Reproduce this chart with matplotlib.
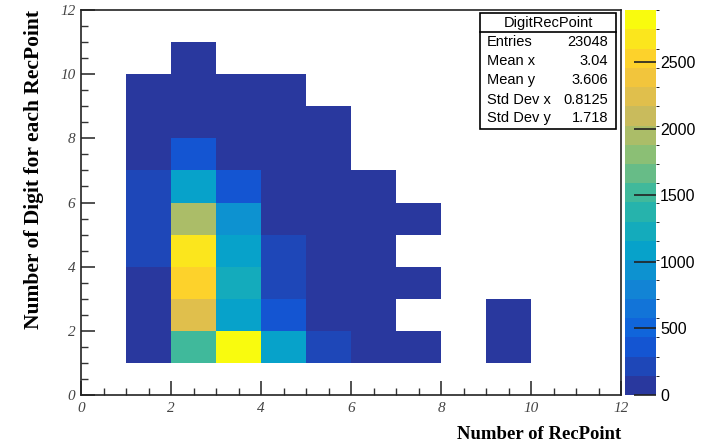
import numpy as np
import matplotlib
matplotlib.use("Agg")
import matplotlib.pyplot as plt
from matplotlib.colors import LinearSegmentedColormap, BoundaryNorm, ListedColormap

# bin contents of DigitRecPoint, 1x1 bins on [0,12]x[0,12]
# each entry: (x bin low edge, y bin low edge, content)
ix = [1, 1, 1, 1, 1, 1, 1, 1, 1,
      2, 2, 2, 2, 2, 2, 2, 2, 2, 2,
      3, 3, 3, 3, 3, 3, 3, 3, 3,
      4, 4, 4, 4, 4, 4, 4, 4, 4,
      5, 5, 5, 5, 5, 5, 5, 5,
      6, 6, 6, 6, 6, 6,
      7, 7, 7,
      9, 9]
iy = [1, 2, 3, 4, 5, 6, 7, 8, 9,
      1, 2, 3, 4, 5, 6, 7, 8, 9, 10,
      1, 2, 3, 4, 5, 6, 7, 8, 9,
      1, 2, 3, 4, 5, 6, 7, 8, 9,
      1, 2, 3, 4, 5, 6, 7, 8,
      1, 2, 3, 4, 5, 6,
      1, 3, 5,
      1, 2]
content = [8, 6, 5, 260, 260, 260, 3, 2, 1,
           1450, 2200, 2540, 2660, 2020, 1060, 400, 3, 2, 1,
           2890, 1040, 1300, 1130, 880, 380, 5, 3, 2,
           1050, 380, 260, 260, 6, 4, 3, 2, 1,
           260, 9, 6, 5, 4, 3, 2, 1,
           8, 6, 5, 4, 3, 2,
           3, 2, 1,
           2, 1]

stats_names = ["Entries", "Mean x", "Mean y", "Std Dev x", "Std Dev y"]
stats_values = ["23048", "3.04", "3.606", "0.8125", "1.718"]

# ROOT kBird palette
stops = [0.0, 0.125, 0.25, 0.375, 0.5, 0.625, 0.75, 0.875, 1.0]
red = [0.16, 0.0592, 0.0780, 0.0232, 0.1802, 0.5301, 0.8186, 0.9956, 0.9764]
green = [0.22, 0.3599, 0.5041, 0.6419, 0.7178, 0.7492, 0.7328, 0.7862, 0.9832]
blue = [0.62, 0.8684, 0.8385, 0.7914, 0.6425, 0.4662, 0.3499, 0.1968, 0.0539]
bird = LinearSegmentedColormap.from_list(
    "bird", list(zip(stops, zip(red, green, blue))))

ncont = 20
zmax = max(content)
levels = np.linspace(0, zmax, ncont + 1)
cmap = ListedColormap(bird(np.linspace(0, 1, ncont)))
norm = BoundaryNorm(levels, ncont)

H = np.zeros((12, 12))
for x, y, c in zip(ix, iy, content):
    H[y, x] = c
H = np.ma.masked_equal(H, 0)
edges = np.arange(13)

fig = plt.figure(figsize=(7.11, 4.45), dpi=100)
ax = fig.add_axes([81 / 711, 1 - 395 / 445, 540 / 711, 385 / 445])
cax = fig.add_axes([625 / 711, 1 - 395 / 445, 31 / 711, 385 / 445])

mesh = ax.pcolormesh(edges, edges, H, cmap=cmap, norm=norm)
ax.set_xlim(0, 12)
ax.set_ylim(0, 12)

for sp in ax.spines.values():
    sp.set_linewidth(1.2)
    sp.set_color("#222222")

ax.set_xticks(np.arange(0, 13, 2))
ax.set_yticks(np.arange(0, 13, 2))
ax.set_xticks(np.arange(0, 12.01, 0.5), minor=True)
ax.set_yticks(np.arange(0, 12.01, 0.5), minor=True)
ax.tick_params(which="major", direction="in", length=10, width=1.2, color="#333333",
               top=False, right=False)
ax.tick_params(which="minor", direction="in", length=5, width=1, color="#333333",
               top=False, right=False)
tick_font = dict(family="Liberation Serif", style="italic", size=11)
ax.set_xticklabels([str(v) for v in range(0, 13, 2)], fontdict=tick_font, color="#444444")
ax.set_yticklabels([str(v) for v in range(0, 13, 2)], fontdict=tick_font, color="#444444")
ax.tick_params(axis="x", pad=5)
ax.tick_params(axis="y", pad=4)

ax.set_xlabel("Number of RecPoint", family="Liberation Serif", weight="bold", size=13.5,
              loc="right", labelpad=8)
ax.set_ylabel("Number of Digit for each RecPoint", family="Liberation Serif", weight="bold",
              size=15.5, loc="top", labelpad=12)

# colour palette axis
cb = fig.colorbar(mesh, cax=cax, ticks=np.arange(0, 2501, 500))
cb.outline.set_visible(False)
cax.tick_params(direction="in", length=16, width=1.2, color="#222222",
                labelsize=11.5, pad=3)
for t in cax.get_yticklabels():
    t.set_family("Liberation Sans")

# statistics box
bx0, bx1 = 480 / 711, 616 / 711
by0, by1 = 1 - 129 / 445, 1 - 13 / 445
fig.patches.append(plt.Rectangle((bx0, by0), bx1 - bx0, by1 - by0, transform=fig.transFigure,
                                 facecolor="white", edgecolor="black", linewidth=1.2, zorder=5))
ysep = 1 - 32 / 445
fig.add_artist(plt.Line2D([bx0, bx1], [ysep, ysep], color="black", linewidth=1.2, zorder=6))
fig.text((bx0 + bx1) / 2, 1 - 22.5 / 445, "DigitRecPoint", ha="center", va="center",
         family="Liberation Sans", size=10.5, zorder=7)
rows = [42, 61, 80, 100, 118]
for name, val, r in zip(stats_names, stats_values, rows):
    fig.text(487 / 711, 1 - r / 445, name, ha="left", va="center",
             family="Liberation Sans", size=10.5, zorder=7)
    fig.text(608 / 711, 1 - r / 445, val, ha="right", va="center",
             family="Liberation Sans", size=10.5, zorder=7)

fig.savefig("out.png", dpi=100)
